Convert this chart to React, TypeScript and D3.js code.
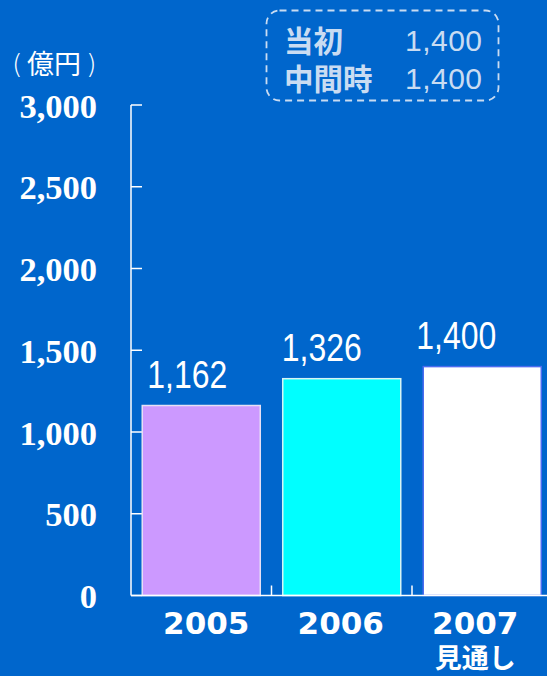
import React from "react";
import * as d3 from "d3";

const categories = ["2005", "2006", "2007"];
const subLabels = ["", "", "見通し"];
const values = [1162, 1326, 1400];
const valueLabels = ["1,162", "1,326", "1,400"];
const barColors = ["#cc99ff", "#00ffff", "#ffffff"];
const barStrokes = ["#e6e0f5", "#d8f4f4", "#4a6cf0"];
const yTicks = [0, 500, 1000, 1500, 2000, 2500, 3000];
const legendNames = ["当初", "中間時"];
const legendValues = ["1,400", "1,400"];

const W = 547;
const H = 676;

export default function App() {
  const x = d3
    .scaleBand<string>()
    .domain(categories)
    .range([131, 552.5])
    .paddingInner(0.16)
    .paddingOuter(0.08);
  const y = d3.scaleLinear().domain([0, 3000]).range([595.5, 105]);
  const fmt = d3.format(",");
  const step = x.step();
  const axisColor = "#ffffff";
  const legendColor = "#c9dcf2";

  return (
    <svg
      width={W}
      height={H}
      style={{ position: "absolute", left: 0, top: 0, display: "block" }}
    >
      <rect x={0} y={0} width={W} height={H} fill="#0066cc" />

      {/* unit label */}
      <g fill="#ffffff">
        <text x={12} y={73} fontSize={27} fontFamily="'DejaVu Sans', sans-serif" fontWeight={200}>
          (
        </text>
        <text x={27} y={74} fontSize={27} fontFamily="'Noto Sans CJK JP'">
          億円
        </text>
        <text x={86} y={73} fontSize={27} fontFamily="'DejaVu Sans', sans-serif" fontWeight={200}>
          )
        </text>
      </g>

      {/* legend box */}
      <rect
        x={266.5}
        y={10.5}
        width={232}
        height={90}
        rx={13}
        fill="none"
        stroke={legendColor}
        strokeWidth={1.8}
        strokeDasharray="7 5"
      />
      <text
        fill={legendColor}
        fontSize={29.5}
        fontWeight="bold"
        fontFamily="'Noto Sans CJK JP'"
      >
        {legendNames.map((n, i) => (
          <tspan key={n} x={284} y={52 + i * 38}>
            {n}
          </tspan>
        ))}
      </text>
      <text
        fill={legendColor}
        fontSize={30}
        textAnchor="end"
        fontFamily="'Liberation Sans', Arial"
      >
        {legendValues.map((v, i) => (
          <tspan key={i} x={482} y={51 + i * 38} textLength={77} lengthAdjust="spacing">
            {v}
          </tspan>
        ))}
      </text>

      {/* y axis */}
      <line
        x1={131}
        x2={131}
        y1={y(3000)}
        y2={y(0)}
        stroke={axisColor}
        strokeWidth={1.5}
      />
      {yTicks.map((t) => (
        <g key={t}>
          <line
            x1={131}
            x2={142}
            y1={y(t)}
            y2={y(t)}
            stroke={axisColor}
            strokeWidth={1.5}
          />
          <text
            x={97}
            y={y(t) + 12.5}
            textAnchor="end"
            fill="#ffffff"
            fontSize={34.5}
            fontWeight="bold"
            fontFamily="'Liberation Serif', 'Times New Roman', serif"
          >
            {fmt(t)}
          </text>
        </g>
      ))}

      {/* bars */}
      {categories.map((c, i) => (
        <rect
          key={c}
          x={x(c)!}
          y={y(values[i])}
          width={x.bandwidth()}
          height={y(0) - y(values[i])}
          fill={barColors[i]}
          stroke={barStrokes[i]}
          strokeWidth={1.5}
        />
      ))}

      {/* x axis */}
      <line
        x1={131}
        x2={W}
        y1={y(0)}
        y2={y(0)}
        stroke={axisColor}
        strokeWidth={1.5}
      />
      {categories.slice(1).map((c) => (
        <line
          key={c}
          x1={x(c)! - (step - x.bandwidth()) / 2}
          x2={x(c)! - (step - x.bandwidth()) / 2}
          y1={y(0)}
          y2={y(0) - 10}
          stroke={axisColor}
          strokeWidth={1.5}
        />
      ))}

      {/* value labels */}
      {categories.map((c, i) => (
        <text
          key={c}
          x={x(c)! + x.bandwidth() / 2 - 14 - i * 6}
          y={y(values[i]) - 17.5}
          textAnchor="middle"
          fill="#ffffff"
          fontSize={38}
          fontFamily="'Liberation Sans', Arial, sans-serif"
          textLength={80}
          lengthAdjust="spacingAndGlyphs"
        >
          {valueLabels[i]}
        </text>
      ))}

      {/* category labels */}
      {categories.map((c, i) => {
        const cx = x(c)! + x.bandwidth() / 2 + 5 - i * 6;
        return (
          <text
            key={c}
            textAnchor="middle"
            fill="#ffffff"
            fontWeight="bold"
          >
            <tspan x={cx} y={634} fontSize={31} fontFamily="'DejaVu Sans', sans-serif">
              {c}
            </tspan>
            {subLabels[i] && (
              <tspan x={cx} y={668} fontSize={27} fontFamily="'Noto Sans CJK JP'">
                {subLabels[i]}
              </tspan>
            )}
          </text>
        );
      })}
    </svg>
  );
}
